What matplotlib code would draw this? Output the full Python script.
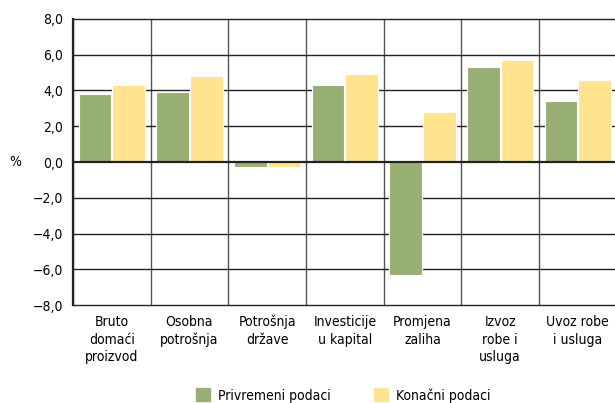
import numpy as np
import matplotlib.pyplot as plt
from matplotlib.patches import Rectangle
from matplotlib import font_manager

plt.rcParams['font.family'] = ['DejaVu Sans']
plt.rcParams['font.stretch'] = 'condensed'
print([f.name + ' ' + str(f.stretch) for f in font_manager.fontManager.ttflist if 'Condensed' in f.fname or 'Narrow' in f.fname])

# Data
categories = ['Bruto\ndomaći\nproizvod', 'Osobna\npotrošnja', 'Potrošnja\ndržave',
              'Investicije\nu kapital', 'Promjena\nzaliha', 'Izvoz\nrobe i\nusluga',
              'Uvoz robe\ni usluga']
privremeni = [3.8, 3.9, -0.3, 4.3, -6.3, 5.3, 3.4]
konacni = [4.3, 4.8, -0.3, 4.9, 2.8, 5.7, 4.6]
yticks = [-8, -6, -4, -2, 0, 2, 4, 6, 8]
ytick_labels = ['\u22128,0', '\u22126,0', '\u22124,0', '\u22122,0', '0,0',
                '2,0', '4,0', '6,0', '8,0']

green = '#97AF72'
yellow = '#FFE38F'

fig = plt.figure(figsize=(6.15, 4.03), dpi=100)
ax = fig.add_axes([0.1187, 0.243, 0.884, 0.710])

x = np.arange(len(categories))
w = 0.42
ax.bar(x - 0.215, privremeni, w, color=green, edgecolor='white', linewidth=0.8, zorder=3)
ax.bar(x + 0.215, konacni, w, color=yellow, edgecolor='white', linewidth=0.8, zorder=3)

# grid: horizontal lines and category separators
for yv in yticks:
    ax.axhline(yv, color='#222222', linewidth=1.6 if yv == 0 else 1.0,
               zorder=2 if yv != 0 else 4, clip_on=False)
for xv in np.arange(-0.5, len(categories), 1.0):
    ax.axvline(xv, color='#555555', linewidth=1.0, zorder=1)

ax.set_xlim(-0.5, len(categories) - 0.5)
ax.set_ylim(-8, 8)
ax.set_yticks(yticks)
ax.set_yticklabels(ytick_labels, fontsize=10)
ax.set_xticks(x)
ax.set_xticklabels(categories, fontsize=10, linespacing=1.35, va='top')
ax.tick_params(axis='both', length=0, pad=7)
for s in ['top', 'right', 'bottom']:
    ax.spines[s].set_visible(False)
ax.spines['left'].set_linewidth(1.6)
ax.spines['left'].set_color('#222222')
ax.spines['left'].set_zorder(5)

fig.text(15 / 615, 1 - 162 / 403, '%', fontsize=10, ha='center', va='center')

# legend
fig.patches.append(Rectangle((196 / 615, 0.005), 14 / 615, 13 / 403,
                             transform=fig.transFigure, color=green))
fig.text(218 / 615, 1 - 396 / 403, 'Privremeni podaci', fontsize=10, va='center')
fig.patches.append(Rectangle((374 / 615, 0.005), 14 / 615, 13 / 403,
                             transform=fig.transFigure, color=yellow))
fig.text(396 / 615, 1 - 396 / 403, 'Konačni podaci', fontsize=10, va='center')

fig.savefig('out.png', dpi=100)
